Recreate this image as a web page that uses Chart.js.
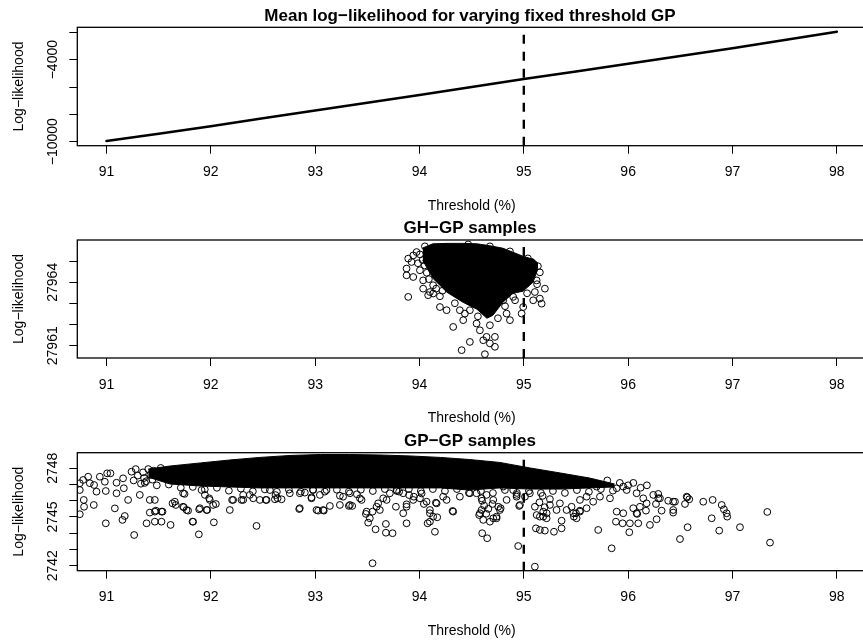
<!DOCTYPE html>
<html>
<head>
<meta charset="utf-8">
<script src="https://cdn.jsdelivr.net/npm/chart.js@4.4.1/dist/chart.umd.min.js"></script>
<style>
  html, body { margin: 0; padding: 0; background: #fff; overflow: hidden; width: 863px; height: 642px; }
  canvas { position: absolute; left: 0; }
</style>
</head>
<body>
<canvas id="c1" width="866" height="214" style="top:0px"></canvas>
<canvas id="c2" width="866" height="214" style="top:214px"></canvas>
<canvas id="c3" width="866" height="214" style="top:428px"></canvas>
<script>
// shared x axis
const xTicks = [91, 92, 93, 94, 95, 96, 97, 98];
const xRange = [90.72, 98.28];
const threshold = 95;
const xTitle = 'Threshold (%)';
const yTitle = 'Log\u2212likelihood';

// panel 1: mean log-likelihood
const meanX = [91, 91.5, 92, 92.5, 93, 93.5, 94, 94.5, 95, 95.5, 96, 96.5, 97, 97.5, 98];
const meanLL = [-9950, -9420, -8870, -8290, -7720, -7150, -6580, -6000, -5420, -4860, -4300, -3730, -3160, -2560, -1960];
const meanYTicks = [-10000, -8000, -6000, -4000, -2000];
const meanYLabels = [-10000, -4000];
const meanYRange = [-10292, -1634];

// panel 2: GH-GP samples
const ghYTicks = [27961, 27962, 27963, 27964, 27965];
const ghYLabels = [27961, 27964];
const ghYRange = [27960.42, 27966.0];
// dense core of the cloud (where circles overlap into solid black)
const ghCoreX = [94.03, 94.128, 94.263, 94.416, 94.550, 94.646, 94.704, 94.800, 94.896, 94.992, 95.088, 95.136];
const ghCoreTop = [27965.62, 27965.82, 27965.84, 27965.84, 27965.82, 27965.75, 27965.70, 27965.61, 27965.42, 27965.23, 27965.09, 27964.90];
const ghCoreBottom = [27965.05, 27964.19, 27963.53, 27963.06, 27962.73, 27962.30, 27962.44, 27963.06, 27963.48, 27963.58, 27964.00, 27964.66];
const ghPoints = [
  [93.892, 27963.31], [93.876, 27964.65], [93.876, 27964.33], [93.940, 27964.25], [93.892, 27965.12],
  [93.924, 27964.96], [93.940, 27965.27], [93.972, 27965.43], [94.035, 27964.09], [94.083, 27963.39],
  [94.131, 27963.47], [94.196, 27962.83], [94.260, 27962.68], [94.323, 27961.89], [94.404, 27960.79],
  [94.483, 27961.18], [94.627, 27960.60], [94.579, 27961.73], [94.643, 27961.42], [94.723, 27961.42],
  [94.723, 27960.95], [94.675, 27961.11], [94.611, 27961.26], [94.419, 27962.21], [94.435, 27962.52],
  [94.835, 27962.52], [94.867, 27962.21], [94.979, 27962.52], [94.994, 27962.83], [95.090, 27963.15],
  [95.171, 27962.99], [95.154, 27963.23], [95.202, 27963.70], [95.106, 27963.54], [95.123, 27964.09],
  [95.090, 27964.88], [95.075, 27964.96], [94.931, 27964.88], [94.260, 27965.67], [94.467, 27965.79],
  [94.052, 27965.70], [94.803, 27963.15], [94.898, 27963.31], [94.547, 27962.05], [94.387, 27962.68],
  [94.131, 27963.86], [94.035, 27963.70], [94.100, 27963.54],
  [94.196, 27963.34], [94.339, 27963.01], [94.483, 27962.68], [94.560, 27962.39], [94.675, 27961.97],
  [94.752, 27962.30], [94.820, 27962.87], [94.916, 27963.15], [95.031, 27963.48], [95.127, 27963.91],
  [95.154, 27964.47], [95.135, 27964.76], [95.039, 27965.13], [94.867, 27965.46], [94.675, 27965.70],
  [94.004, 27965.32], [93.985, 27964.90], [94.004, 27964.57], [94.05, 27964.80], [94.07, 27964.45],
  [94.03, 27965.05], [94.09, 27964.15], [94.16, 27963.70], [94.22, 27963.60]
];

// panel 3: GP-GP samples
const gpYTicks = [2742, 2743, 2744, 2745, 2746, 2747, 2748];
const gpYLabels = [2742, 2745, 2748];
const gpYRange = [2741.69, 2748.96];
const gpCoreX = [91.40, 91.61, 91.90, 92.18, 92.47, 92.76, 93.05, 93.33, 93.62, 93.91, 94.20, 94.48, 94.77, 95.06, 95.35, 95.63, 95.87];
const gpCoreTop = [2747.95, 2748.14, 2748.33, 2748.51, 2748.67, 2748.79, 2748.85, 2748.85, 2748.82, 2748.76, 2748.67, 2748.54, 2748.36, 2748.02, 2747.71, 2747.40, 2747.03];
const gpCoreBottom = [2747.45, 2747.03, 2746.91, 2746.85, 2746.79, 2746.79, 2746.79, 2746.79, 2746.79, 2746.79, 2746.79, 2746.66, 2746.79, 2746.72, 2746.72, 2746.79, 2746.85];
const gpPoints = [
  [90.744, 2747.08], [90.744, 2746.66], [90.744, 2745.17], [90.776, 2747.28], [90.782, 2746.05],
  [90.785, 2745.63], [90.824, 2747.48], [90.840, 2747.08], [90.878, 2745.74], [90.881, 2746.97],
  [90.904, 2746.56], [90.936, 2747.48], [90.984, 2747.17], [90.993, 2746.60], [90.993, 2744.61],
  [91.006, 2747.69], [91.038, 2747.69], [91.080, 2745.53], [91.096, 2747.11], [91.096, 2746.46],
  [91.153, 2744.82], [91.175, 2745.06], [91.159, 2747.38], [91.166, 2746.77], [91.207, 2746.05],
  [91.240, 2747.79], [91.265, 2743.89], [91.319, 2746.36], [91.384, 2744.61], [91.415, 2745.27],
  [91.473, 2745.39], [91.463, 2746.05], [91.527, 2744.71], [91.537, 2745.33], [91.614, 2744.51],
  [91.633, 2745.84], [91.664, 2745.74], [91.741, 2745.60], [91.748, 2746.42], [91.782, 2745.39],
  [91.825, 2744.71], [91.885, 2743.93], [91.888, 2745.47], [91.911, 2746.66], [91.965, 2745.43],
  [91.984, 2746.15], [92.029, 2744.67], [92.048, 2745.80], [92.182, 2745.43], [92.204, 2746.05],
  [92.294, 2746.05], [92.438, 2744.45], [92.470, 2746.05], [92.527, 2746.05], [92.614, 2746.09],
  [92.678, 2746.09], [92.847, 2745.49], [92.853, 2746.46], [92.901, 2746.50], [92.965, 2746.21],
  [93.029, 2745.39], [93.083, 2745.39], [93.141, 2745.68], [93.237, 2746.31], [93.323, 2745.68],
  [93.355, 2745.68], [93.445, 2746.05], [93.486, 2745.19], [93.508, 2744.65], [93.550, 2745.33],
  [93.550, 2742.15], [93.579, 2744.24], [93.620, 2745.43], [93.604, 2745.84], [93.678, 2744.57],
  [93.685, 2746.05], [93.678, 2744.03], [93.742, 2744.00], [93.774, 2745.63], [93.805, 2746.56],
  [93.844, 2745.23], [93.876, 2744.61], [93.876, 2745.78], [93.946, 2746.25], [94.042, 2745.80],
  [94.078, 2744.61],
  [94.100, 2745.23], [94.100, 2744.71], [94.148, 2744.09], [94.170, 2744.98], [94.157, 2745.88],
  [94.317, 2745.37], [94.601, 2744.00], [94.649, 2743.69], [94.572, 2745.12], [94.675, 2744.71],
  [94.707, 2744.92], [94.739, 2745.02], [94.778, 2745.54], [94.595, 2745.43], [94.946, 2743.21],
  [95.116, 2744.30], [95.154, 2744.20], [95.202, 2744.16], [95.289, 2744.09], [95.362, 2744.30],
  [95.362, 2744.77], [95.106, 2741.94], [95.186, 2745.02], [95.219, 2745.23], [95.480, 2745.02],
  [95.500, 2745.23], [95.538, 2745.39], [95.602, 2745.54], [95.713, 2744.20], [95.842, 2743.07],
  [95.883, 2744.71], [95.947, 2744.61], [96.011, 2744.06], [96.017, 2744.61], [96.097, 2744.61],
  [96.087, 2745.19], [96.171, 2745.39], [96.209, 2744.51], [96.273, 2744.86], [96.321, 2745.39],
  [96.267, 2745.80], [96.305, 2746.15], [96.289, 2746.42], [96.384, 2746.00], [96.449, 2745.94],
  [96.432, 2745.27], [96.497, 2743.64], [96.545, 2745.80], [96.567, 2746.21], [96.586, 2746.09],
  [96.570, 2744.37], [96.720, 2745.94], [96.810, 2746.05], [96.801, 2744.92], [96.873, 2744.16],
  [96.897, 2745.74], [96.918, 2745.47], [96.950, 2745.02], [97.072, 2744.37], [97.334, 2745.31],
  [97.360, 2743.42], [94.931, 2746.25], [94.956, 2745.68],
  [94.323, 2745.33], [94.579, 2745.23], [94.611, 2744.82], [94.739, 2744.92], [94.771, 2745.43],
  [94.755, 2745.63], [94.707, 2746.05], [94.643, 2746.36], [94.595, 2746.15], [94.547, 2746.46],
  [94.835, 2746.05], [94.931, 2746.36], [94.963, 2745.74], [95.106, 2745.63], [95.123, 2745.12],
  [95.154, 2745.02], [95.219, 2744.92], [95.186, 2745.33], [95.314, 2745.43], [95.410, 2745.43],
  [95.474, 2745.23], [95.506, 2744.92], [95.538, 2745.33], [95.665, 2745.94], [95.730, 2746.25],
  [95.826, 2746.15], [95.890, 2745.33], [95.953, 2745.23], [96.049, 2745.54], [96.081, 2745.23],
  [96.113, 2745.63], [96.177, 2745.84], [96.145, 2746.15], [96.081, 2746.46], [95.986, 2746.66],
  [95.890, 2746.77], [95.953, 2746.87], [95.698, 2746.87], [95.602, 2746.25], [95.538, 2746.05],
  [95.458, 2745.63], [95.346, 2745.84], [95.250, 2745.74], [95.058, 2746.46], [95.011, 2746.25],
  [94.898, 2746.66], [94.802, 2746.87], [94.483, 2746.46], [94.387, 2746.25], [94.260, 2746.05],
  [96.241, 2746.36], [96.289, 2746.15], [96.432, 2745.94], [96.432, 2745.43], [96.561, 2746.25],
  [96.944, 2745.23],
  [91.415, 2746.05], [91.463, 2745.33], [91.527, 2745.33], [91.463, 2744.71], [91.655, 2745.94],
  [91.734, 2745.63], [91.767, 2745.43], [91.734, 2746.46], [91.830, 2744.71], [91.895, 2745.54],
  [91.959, 2745.43], [92.022, 2745.74], [91.990, 2746.05], [91.943, 2746.36], [92.214, 2746.05],
  [92.310, 2746.05], [92.406, 2746.15], [92.534, 2746.05], [92.310, 2746.36], [92.374, 2746.36],
  [92.566, 2746.66], [92.757, 2746.46], [92.853, 2745.54], [93.013, 2745.43], [93.077, 2745.43],
  [92.965, 2746.15], [93.045, 2746.36], [92.981, 2746.66], [93.109, 2746.66], [93.237, 2745.74],
  [93.333, 2745.74], [93.333, 2746.46], [93.268, 2746.25], [93.429, 2746.15], [93.493, 2745.33],
  [93.524, 2744.92], [93.589, 2745.63], [93.652, 2746.15], [93.716, 2746.46], [93.780, 2746.66],
  [93.844, 2746.46], [93.876, 2745.63], [93.940, 2746.05], [94.004, 2746.15], [94.068, 2745.94],
  [94.100, 2745.43], [94.164, 2745.84], [94.227, 2746.25], [94.131, 2745.02],
  [91.367, 2747.10], [91.482, 2746.95], [91.597, 2747.00], [91.712, 2746.80], [91.827, 2746.85],
  [91.942, 2746.70], [92.058, 2746.80], [92.173, 2746.62], [92.288, 2746.75], [92.403, 2746.58],
  [92.518, 2746.70], [92.633, 2746.55], [92.748, 2746.68], [92.863, 2746.56], [92.978, 2746.68],
  [93.093, 2746.56], [93.208, 2746.68], [93.323, 2746.56], [93.438, 2746.68], [93.553, 2746.60],
  [93.668, 2746.72], [93.783, 2746.60], [93.898, 2746.72], [94.013, 2746.60], [94.128, 2746.72],
  [94.244, 2746.60], [94.359, 2746.72], [94.474, 2746.48], [94.589, 2746.60], [94.704, 2746.48],
  [94.819, 2746.66], [94.934, 2746.48], [95.049, 2746.60], [95.164, 2746.48], [95.279, 2746.60],
  [95.394, 2746.48], [95.509, 2746.66], [95.624, 2746.55], [95.739, 2746.72], [95.854, 2746.62],
  [91.28, 2747.95], [91.30, 2747.55], [91.26, 2747.25], [91.33, 2747.05], [91.35, 2747.75],
  [91.40, 2747.95], [91.45, 2747.85], [91.52, 2748.02], [96.00, 2746.95], [96.05, 2747.10],
  [96.12, 2746.80], [96.18, 2746.95], [95.92, 2747.10], [95.80, 2747.25],
  [94.60, 2746.00], [94.62, 2745.70], [94.66, 2745.50], [94.70, 2745.80], [94.64, 2745.20],
  [95.15, 2745.90], [95.20, 2745.60], [95.25, 2746.10], [95.18, 2746.30], [92.62, 2746.35],
  [92.64, 2746.15], [93.40, 2746.40], [93.90, 2746.35], [94.02, 2746.45],
  [91.36, 2747.40], [91.38, 2747.20], [91.42, 2747.60], [91.44, 2747.30], [91.48, 2747.70]
];

const FONT = '"Liberation Sans", Arial, Helvetica, sans-serif';
const zip = (xs, ys) => xs.map((x, i) => ({ x: x, y: ys[i] }));
const fmt = v => String(v).replace('-', '\u2212');

function thresholdLine(yRange) {
  return {
    data: [{ x: threshold, y: yRange[0] }, { x: threshold, y: yRange[1] }],
    showLine: true, borderColor: '#000', borderWidth: 2.4, borderDash: [9, 8],
    pointRadius: 0, order: 1
  };
}

function coreBand(xs, top, bottom) {
  return [
    { data: zip(xs, top), showLine: true, borderColor: '#000', borderWidth: 1, backgroundColor: '#000',
      fill: '+1', pointRadius: 0, order: 4 },
    { data: zip(xs, bottom), showLine: true, borderColor: '#000', borderWidth: 1,
      fill: false, pointRadius: 0, order: 3 }
  ];
}

function circles(points) {
  return {
    data: points.map(p => ({ x: p[0], y: p[1] })),
    pointStyle: 'circle', pointRadius: 3.4, borderWidth: 1,
    borderColor: '#000', backgroundColor: 'rgba(0,0,0,0)', order: 2
  };
}

function makePanel(id, cfg) {
  const canvas = document.getElementById(id);
  const H = canvas.height;
  const textPlugin = {
    id: 'rtext',
    afterDraw(chart) {
      const ctx = chart.ctx, a = chart.chartArea;
      const xs = chart.scales.x, ys = chart.scales.y;
      ctx.save();
      ctx.strokeStyle = '#000';
      ctx.lineWidth = 1.3;
      ctx.strokeRect(a.left, a.top, a.right - a.left, a.bottom - a.top);
      ctx.fillStyle = '#000';
      ctx.textAlign = 'center';
      ctx.textBaseline = 'alphabetic';
      ctx.font = 'bold 17px ' + FONT;
      ctx.fillText(cfg.title, 470, a.top - 6.6);
      ctx.font = '14px ' + FONT;
      xTicks.forEach(v => ctx.fillText(String(v), xs.getPixelForValue(v), a.bottom + 30.5));
      ctx.fillText(xTitle, (a.left + a.right) / 2, a.bottom + 64.3);
      cfg.yLabels.forEach(v => {
        ctx.save();
        ctx.translate(a.left - 20, ys.getPixelForValue(v));
        ctx.rotate(-Math.PI / 2);
        ctx.fillText(fmt(v), 0, 0);
        ctx.restore();
      });
      ctx.save();
      ctx.translate(22.8, (a.top + a.bottom) / 2);
      ctx.rotate(-Math.PI / 2);
      ctx.fillText(yTitle, 0, 0);
      ctx.restore();
      ctx.restore();
    }
  };

  return new Chart(canvas, {
    type: 'scatter',
    data: { datasets: cfg.datasets },
    options: {
      responsive: false, animation: false, events: [],
      layout: { autoPadding: false, padding: { top: cfg.boxTop, left: 0, right: 0, bottom: 0 } },
      plugins: { legend: { display: false }, tooltip: { enabled: false } },
      scales: {
        x: {
          type: 'linear', min: xRange[0], max: xRange[1],
          afterBuildTicks: s => { s.ticks = xTicks.map(v => ({ value: v })); },
          afterFit: s => { s.height = H - cfg.boxBottom; },
          ticks: { display: false },
          grid: { drawOnChartArea: false, drawTicks: true, tickLength: 8, color: '#000', lineWidth: 1 },
          border: { display: false }
        },
        y: {
          type: 'linear', min: cfg.yRange[0], max: cfg.yRange[1],
          afterBuildTicks: s => { s.ticks = cfg.yTicks.map(v => ({ value: v })); },
          afterFit: s => { s.width = 77.3; },
          ticks: { display: false },
          grid: { drawOnChartArea: false, drawTicks: true, tickLength: 8, color: '#000', lineWidth: 1 },
          border: { display: false }
        }
      }
    },
    plugins: [textPlugin]
  });
}

makePanel('c1', {
  title: 'Mean log\u2212likelihood for varying fixed threshold GP',
  boxTop: 27.3, boxBottom: 145.7,
  yRange: meanYRange, yTicks: meanYTicks, yLabels: meanYLabels,
  datasets: [
    { data: zip(meanX, meanLL), showLine: true, borderColor: '#000', borderWidth: 2.6,
      borderCapStyle: 'round', pointRadius: 0, order: 2 },
    thresholdLine(meanYRange)
  ]
});

makePanel('c2', {
  title: 'GH\u2212GP samples',
  boxTop: 26, boxBottom: 144,
  yRange: ghYRange, yTicks: ghYTicks, yLabels: ghYLabels,
  datasets: coreBand(ghCoreX, ghCoreTop, ghCoreBottom).concat([circles(ghPoints), thresholdLine(ghYRange)])
});

makePanel('c3', {
  title: 'GP\u2212GP samples',
  boxTop: 24.7, boxBottom: 142.7,
  yRange: gpYRange, yTicks: gpYTicks, yLabels: gpYLabels,
  datasets: coreBand(gpCoreX, gpCoreTop, gpCoreBottom).concat([circles(gpPoints), thresholdLine(gpYRange)])
});
</script>
</body>
</html>
